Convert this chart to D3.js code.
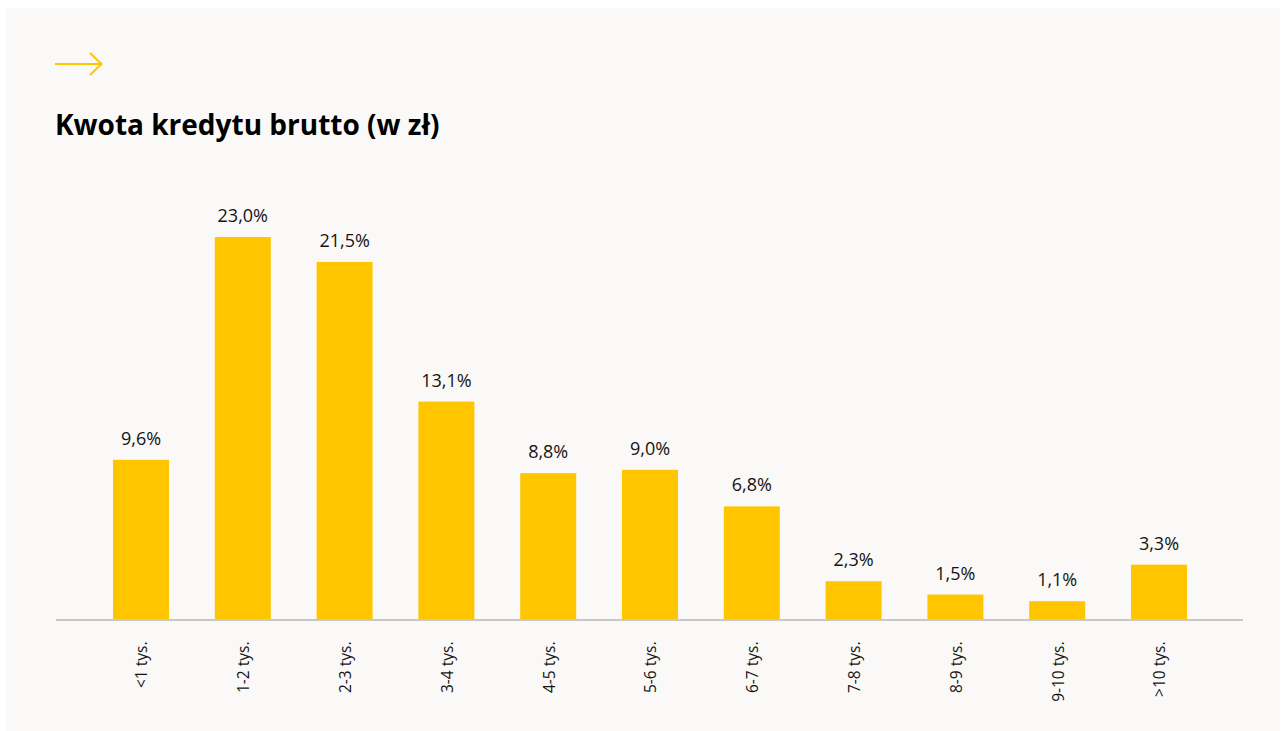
<!DOCTYPE html>
<html lang="pl">
<head>
<meta charset="utf-8">
<script src="https://cdn.jsdelivr.net/npm/d3@7"></script>
<style>
  html, body { margin: 0; padding: 0; background: #ffffff; }
  svg { display: block; }
</style>
</head>
<body>
<svg id="chart" width="1284" height="731"></svg>
<script>
// Kwota kredytu brutto – udział procentowy w przedziałach
const categories = ["<1 tys.", "1-2 tys.", "2-3 tys.", "3-4 tys.", "4-5 tys.", "5-6 tys.",
                    "6-7 tys.", "7-8 tys.", "8-9 tys.", "9-10 tys.", ">10 tys."];
const shares = [9.6, 23.0, 21.5, 13.1, 8.8, 9.0, 6.8, 2.3, 1.5, 1.1, 3.3];
const title = "Kwota kredytu brutto (w zł)";

const yellow = "#FFC600";
const svg = d3.select("#chart");

// light panel
svg.append("rect")
  .attr("x", 6).attr("y", 8)
  .attr("width", 1274).attr("height", 723)
  .attr("fill", "#faf9f7");

// decorative arrow
const arrow = svg.append("g")
  .attr("stroke", yellow).attr("stroke-width", 2)
  .attr("fill", "none").attr("stroke-linecap", "butt");
arrow.append("line").attr("x1", 55).attr("y1", 64).attr("x2", 101).attr("y2", 64);
arrow.append("polyline").attr("points", "90,53 101.5,64 90,75");

// title
svg.append("text")
  .attr("x", 55).attr("y", 135)
  .attr("font-family", "'Open Sans', sans-serif")
  .attr("font-weight", 700)
  .attr("font-size", 28)
  .attr("fill", "#000")
  .text(title);

// plot geometry
const axisY = 619.5;
const left = 67.2, right = 1232.8;

const x = d3.scaleBand()
  .domain(categories)
  .range([left, right])
  .paddingInner(0.45)
  .paddingOuter(0.45);

const y = d3.scaleLinear()
  .domain([0, 23])
  .range([axisY, 237]);

const data = categories.map((c, i) => ({ cat: c, v: shares[i] }));

// bars
svg.append("g").selectAll("rect")
  .data(data)
  .join("rect")
  .attr("x", d => x(d.cat))
  .attr("y", d => y(d.v))
  .attr("width", x.bandwidth())
  .attr("height", d => axisY - y(d.v))
  .attr("fill", yellow);

// value labels
const fmt = v => d3.format(".1f")(v).replace(".", ",") + "%";
svg.append("g").selectAll("text")
  .data(data)
  .join("text")
  .attr("x", d => x(d.cat) + x.bandwidth() / 2)
  .attr("y", d => y(d.v) - 15)
  .attr("text-anchor", "middle")
  .attr("font-family", "'Open Sans', sans-serif")
  .attr("font-size", 18)
  .attr("fill", "#141414")
  .text(d => fmt(d.v));

// baseline
svg.append("line")
  .attr("x1", 56).attr("x2", 1243)
  .attr("y1", axisY + 0.5).attr("y2", axisY + 0.5)
  .attr("stroke", "#c8c8c8").attr("stroke-width", 2);

// category axis with rotated labels
const xAxis = d3.axisBottom(x).tickSize(0).tickPadding(0);
const gx = svg.append("g")
  .attr("transform", `translate(0,${axisY})`)
  .call(xAxis);
gx.select(".domain").remove();
gx.selectAll(".tick text")
  .attr("transform", "translate(1,22) rotate(-90)")
  .attr("x", 0).attr("y", 0)
  .attr("dy", "0.35em")
  .attr("text-anchor", "end")
  .attr("font-family", "'Open Sans', sans-serif")
  .attr("font-size", 15.5)
  .attr("fill", "#141414");
</script>
</body>
</html>
